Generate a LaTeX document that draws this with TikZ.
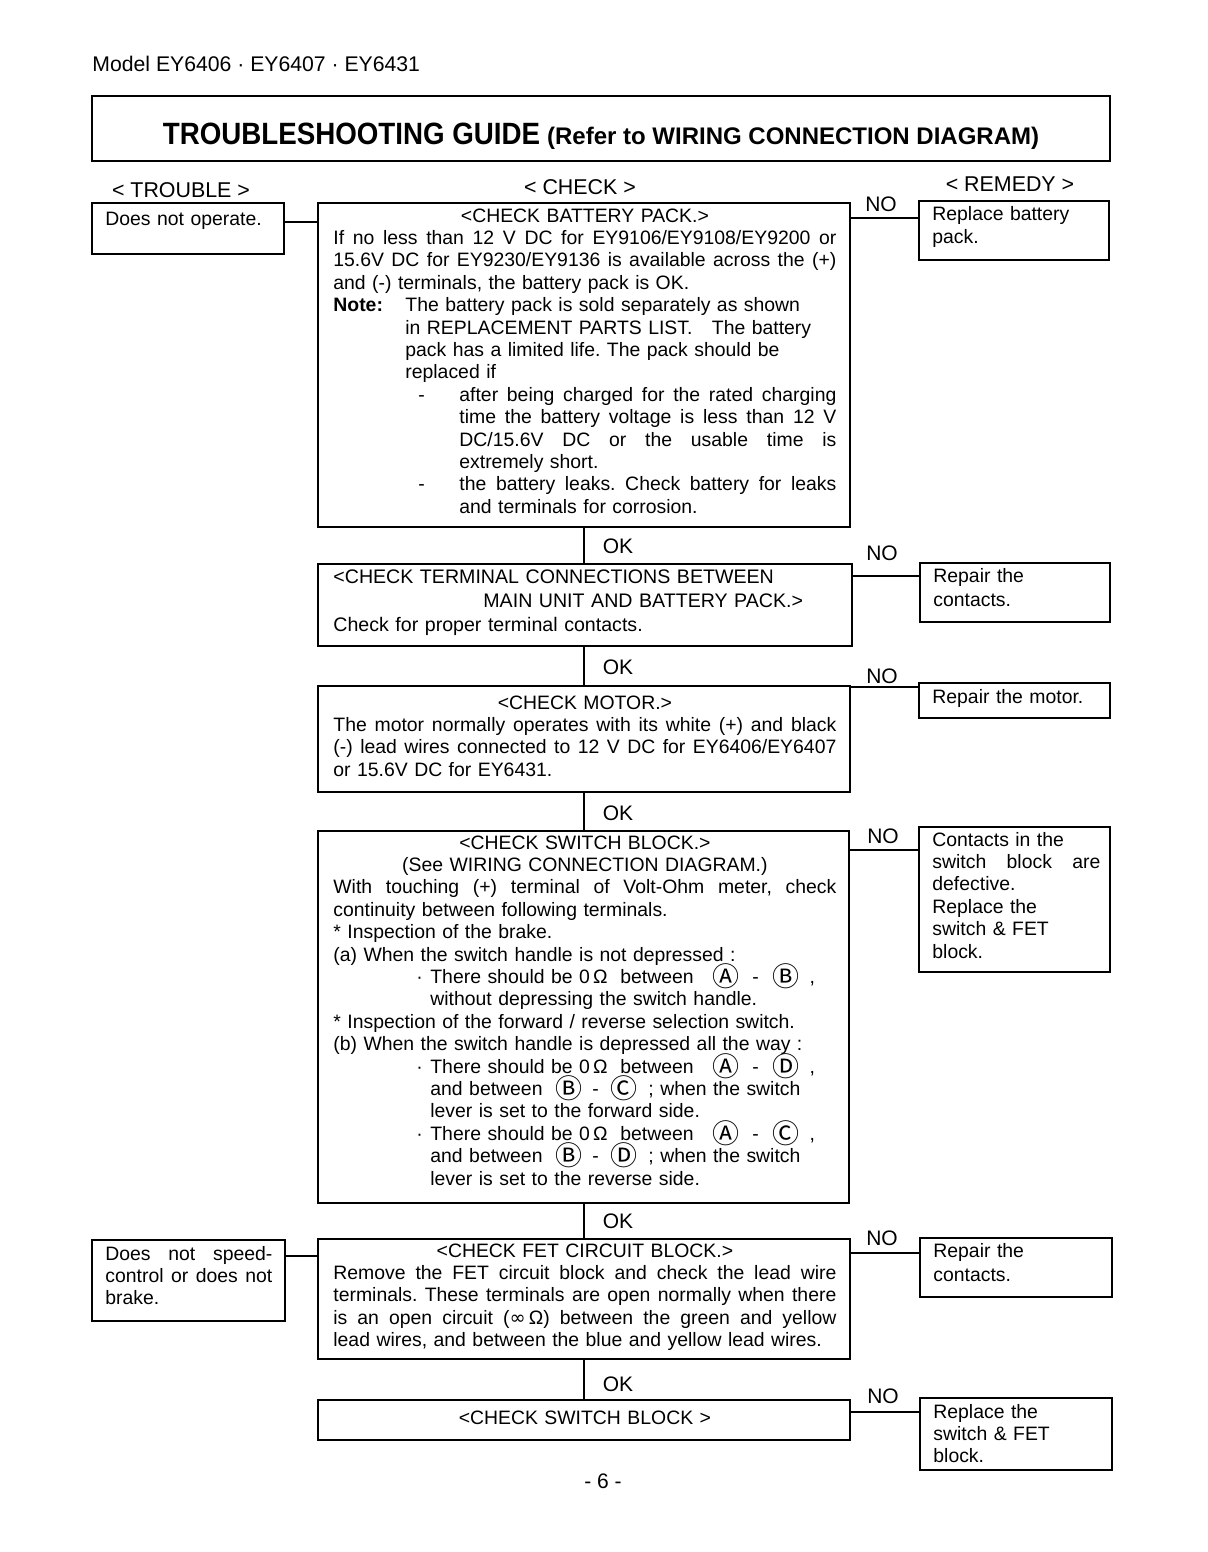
\documentclass[tikz,border=0pt]{standalone}
\usepackage{fontspec}
\setmainfont{Liberation Sans}
\newfontfamily\dvs{DejaVu Sans}
\newfontfamily\cjk{Noto Sans CJK JP}
\usetikzlibrary{calc}
\newcommand\spsk{\spaceskip=0.278em plus 1em minus 0.05em\relax}
\newcommand\jl[2][0]{\leavevmode\hspace*{\dimexpr #1pt/2\relax}\hbox to \dimexpr\hsize-#1pt/2\relax{\spsk #2}}
\newcommand\il[2][0]{\leavevmode\hspace*{\dimexpr #1pt/2\relax}\mbox{#2}}
\newcommand\seg[2]{\makebox[\dimexpr #1pt/2\relax][l]{#2}}
\newcommand\cc[1]{\leavevmode\hbox to \hsize{\hfil #1\hfil}}
\newcommand\dashj[1]{\leavevmode\hspace*{42.5pt}\makebox[20.5pt][l]{-}\hbox to \dimexpr\hsize-63pt\relax{\spsk #1}}
\newcommand\circl[1]{\smash{\raisebox{-1.6pt}{\fontsize{13.5}{13.5}\selectfont\cjk #1}}}
\newcommand\cA{\circl{Ⓐ}}
\newcommand\cB{\circl{Ⓑ}}
\newcommand\cC{\circl{Ⓒ}}
\newcommand\cD{\circl{Ⓓ}}
\newcommand\mkframe[5]{\node[frame, minimum width={(#4-#2)*0.5pt}, minimum height={(#5-#3)*0.5pt}] (#1) at (#2,#3) {};}
\tikzset{
  frame/.style={draw, line width=0.9pt, inner sep=0pt, outer sep=0pt, anchor=north west},
  txt/.style={anchor=base west, inner sep=0pt, align=left, text width=251.5pt,
    font=\fontsize{9.7}{11.2}\selectfont},
  rtxt/.style={txt, text width=84pt},
  lbl/.style={inner sep=0pt, font=\fontsize{10.5}{12}\selectfont},
  conn/.style={line width=0.6pt},
}
\begin{document}
\lineskiplimit=-20pt
\frenchspacing
\begin{tikzpicture}[x=0.5pt, y=-0.5pt]
\fill[white] (0,0) rectangle (1208,1552);
\useasboundingbox (0,0) rectangle (1208,1552);

% header
\node[anchor=base west, inner sep=0pt, font=\fontsize{10.6}{12}\selectfont] (model) at (92,72) {Model EY6406 · EY6407 · EY6431};
\mkframe{titlebox}{92}{96}{1110}{161}
\node[inner sep=0pt, anchor=base, font=\bfseries] (title) at (601,145) {\scalebox{0.9}[1]{\fontsize{15.4}{18}\selectfont TROUBLESHOOTING GUIDE}\hspace{3.5pt}\fontsize{12}{14}\selectfont (Refer to WIRING CONNECTION DIAGRAM)};

\node[lbl, font=\fontsize{10.7}{13}\selectfont] (htrouble) at (181,190) {< TROUBLE >};
\node[lbl, font=\fontsize{10.7}{13}\selectfont] (hcheck) at (580,187) {< CHECK >};
\node[lbl, font=\fontsize{10.7}{13}\selectfont] (hremedy) at (1010,184) {< REMEDY >};

% frames
\mkframe{t1}{92}{203}{284}{254}
\mkframe{c1}{318}{203}{850}{527}
\mkframe{r1}{919}{201}{1109}{260}
\mkframe{c2}{318}{564}{852}{646}
\mkframe{r2}{920}{563}{1110}{622}
\mkframe{c3}{318}{686}{850}{792}
\mkframe{r3}{919}{683}{1110}{718}
\mkframe{c4}{318}{831}{849}{1203}
\mkframe{r4}{919}{827}{1110}{972}
\mkframe{t2}{92}{1240}{285}{1321}
\mkframe{c5}{318}{1239}{850}{1359}
\mkframe{r5}{920}{1238}{1112}{1297}
\mkframe{c6}{318}{1400}{850}{1440}
\mkframe{r6}{920}{1398}{1112}{1470}

% texts
\node[rtxt] (t1t) at (105,225) {Does not operate.};
\node[txt] (c1t) at (333,222) {%
\cc{<CHECK BATTERY PACK.>}\\
\jl{If no less than 12 V DC for EY9106/EY9108/EY9200 or}\\
\jl{15.6V DC for EY9230/EY9136 is available across the (+)}\\
\mbox{and (-) terminals, the battery pack is OK.}\\
\seg{72}{\textbf{Note:}}The battery pack is sold separately as shown\\
\il[72]{in REPLACEMENT PARTS LIST.\ \ \ The battery}\\
\il[72]{pack has a limited life. The pack should be}\\
\il[72]{replaced if}\\
\dashj{after being charged for the rated charging}\\
\jl[126]{time the battery voltage is less than 12 V}\\
\jl[126]{DC/15.6V DC or the usable time is}\\
\il[126]{extremely short.}\\
\dashj{the battery leaks. Check battery for leaks}\\
\il[126]{and terminals for corrosion.}};
\node[rtxt, font=\fontsize{9.7}{12}\selectfont] (r1t) at (932,220) {Replace battery\\pack.};

\node[txt, font=\fontsize{9.8}{12}\selectfont] (c2t) at (333,583) {%
\mbox{<CHECK TERMINAL CONNECTIONS BETWEEN}\\
\il[150]{MAIN UNIT AND BATTERY PACK.>}\\
\mbox{Check for proper terminal contacts.}};
\node[rtxt, font=\fontsize{9.7}{12}\selectfont] (r2t) at (933,582) {Repair the\\contacts.};

\node[txt] (c3t) at (333,709) {%
\cc{<CHECK MOTOR.>}\\
\jl{The motor normally operates with its white (+) and black}\\
\jl{(-) lead wires connected to 12 V DC for EY6406/EY6407}\\
\mbox{or 15.6V DC for EY6431.}};
\node[rtxt] (r3t) at (932,703) {Repair the motor.};

\node[txt] (c4t) at (333,849) {%
\cc{<CHECK SWITCH BLOCK.>}\\
\cc{(See WIRING CONNECTION DIAGRAM.)}\\
\jl{With touching (+) terminal of Volt-Ohm meter, check}\\
\mbox{continuity between following terminals.}\\
\mbox{* Inspection of the brake.}\\
\mbox{(a) When the switch handle is not depressed :}\\
\il[83]{\seg{14}{·}\seg{190}{There should be 0\,Ω}\seg{92}{between}\seg{36}{\cA}\seg{24}{\hspace{2pt}-}\seg{34}{\cB}\,,}\\
\il[97]{without depressing the switch handle.}\\
\mbox{* Inspection of the forward / reverse selection switch.}\\
\mbox{(b) When the switch handle is depressed all the way :}\\
\il[83]{\seg{14}{·}\seg{190}{There should be 0\,Ω}\seg{92}{between}\seg{36}{\cA}\seg{24}{\hspace{2pt}-}\seg{34}{\cD}\,,}\\
\il[97]{\seg{125}{and between}\seg{35}{\cB}\seg{20}{\hspace{1pt}-}\seg{38}{\cC}; when the switch}\\
\il[97]{lever is set to the forward side.}\\
\il[83]{\seg{14}{·}\seg{190}{There should be 0\,Ω}\seg{92}{between}\seg{36}{\cA}\seg{24}{\hspace{2pt}-}\seg{34}{\cC}\,,}\\
\il[97]{\seg{125}{and between}\seg{35}{\cB}\seg{20}{\hspace{1pt}-}\seg{38}{\cD}; when the switch}\\
\il[97]{lever is set to the reverse side.}};
\node[rtxt] (r4t) at (932,846) {Contacts in the\\\jl{switch block are}\\defective.\\Replace the\\switch \& FET\\block.};

\node[rtxt, text width=83.5pt] (t2t) at (105,1260) {\jl{Does not speed-}\\\jl{control or does not}\\brake.};
\node[txt] (c5t) at (333,1257) {%
\cc{<CHECK FET CIRCUIT BLOCK.>}\\
\jl{Remove the FET circuit block and check the lead wire}\\
\jl{terminals. These terminals are open normally when there}\\
\jl{is an open circuit ({\dvs ∞}\,Ω) between the green and yellow}\\
\mbox{lead wires, and between the blue and yellow lead wires.}};
\node[rtxt, font=\fontsize{9.7}{12}\selectfont] (r5t) at (933,1257) {Repair the\\contacts.};

\node[txt] (c6t) at (333,1424) {\cc{<CHECK SWITCH BLOCK >}};
\node[rtxt] (r6t) at (933,1418) {Replace the\\switch \& FET\\block.};

% connectors
\coordinate (vx) at (584,0);
\coordinate (h1) at (0,222);
\coordinate (h2) at (0,1256);
\draw[conn] (t1.east |- h1) -- (c1.west |- h1);
\draw[conn] (t2.east |- h2) -- (c5.west |- h2);

\coordinate (n1) at (0,218);
\coordinate (n2) at (0,576);
\coordinate (n3) at (0,687);
\coordinate (n4) at (0,850);
\coordinate (n5) at (0,1253);
\coordinate (n6) at (0,1412);
\draw[conn] (c1.east |- n1) -- (r1.west |- n1);
\draw[conn] (c2.east |- n2) -- (r2.west |- n2);
\draw[conn] (c3.east |- n3) -- (r3.west |- n3);
\draw[conn] (c4.east |- n4) -- (r4.west |- n4);
\draw[conn] (c5.east |- n5) -- (r5.west |- n5);
\draw[conn] (c6.east |- n6) -- (r6.west |- n6);

\draw[conn] (c1.south -| vx) -- (c2.north -| vx);
\draw[conn] (c2.south -| vx) -- (c3.north -| vx);
\draw[conn] (c3.south -| vx) -- (c4.north -| vx);
\draw[conn] (c4.south -| vx) -- (c5.north -| vx);
\draw[conn] (c5.south -| vx) -- (c6.north -| vx);

% labels
\node[lbl] (ok1) at (618,546) {OK};
\node[lbl] (ok2) at (618,667) {OK};
\node[lbl] (ok3) at (618,813) {OK};
\node[lbl] (ok4) at (618,1221) {OK};
\node[lbl] (ok5) at (618,1384) {OK};
\node[lbl] (no1) at (881,204) {NO};
\node[lbl] (no2) at (882,553) {NO};
\node[lbl] (no3) at (882,676) {NO};
\node[lbl] (no4) at (883,836) {NO};
\node[lbl] (no5) at (882,1238) {NO};
\node[lbl] (no6) at (883,1396) {NO};

\node[lbl] (page) at (603,1481) {- 6 -};
\end{tikzpicture}
\end{document}
